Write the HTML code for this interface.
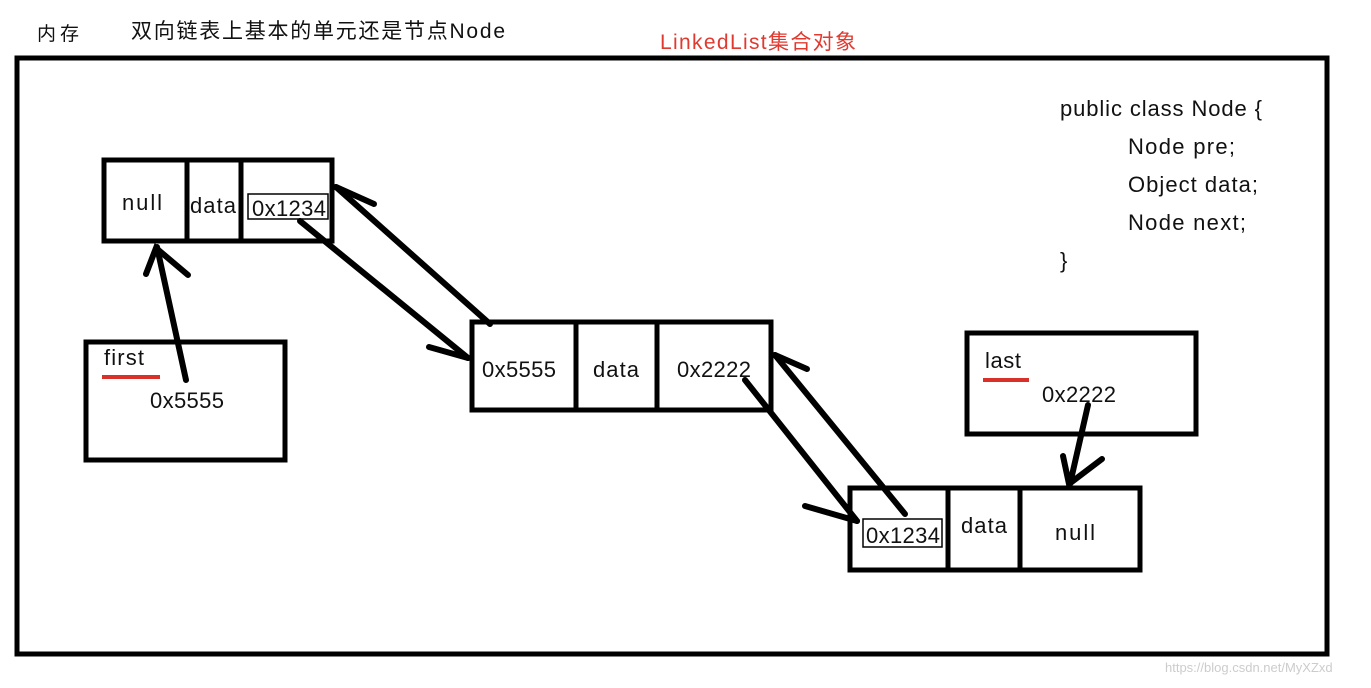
<!DOCTYPE html>
<html><head><meta charset="utf-8"><style>
html,body{margin:0;padding:0;background:#fff;}
svg text{font-family:"Liberation Sans","Noto Sans CJK SC",sans-serif;fill:#111;}
</style></head><body>
<svg width="1371" height="683" viewBox="0 0 1371 683" xmlns="http://www.w3.org/2000/svg">
<rect width="1371" height="683" fill="#fff"/>
<text x="37" y="40" font-size="19" textLength="42">内存</text>
<text x="131" y="38" font-size="21" textLength="374">双向链表上基本的单元还是节点Node</text>
<text x="660" y="49" font-size="21" textLength="196" style="fill:#e03a30">LinkedList集合对象</text>
<rect x="17" y="58" width="1310" height="596" fill="none" stroke="#000" stroke-width="5"/>
<g fill="none" stroke="#000" stroke-width="5">
<rect x="104" y="160" width="228" height="81"/>
<line x1="187" y1="160" x2="187" y2="241"/><line x1="241" y1="160" x2="241" y2="241"/>
<rect x="86" y="342" width="199" height="118"/>
<rect x="472" y="322" width="299" height="88"/>
<line x1="576" y1="322" x2="576" y2="410"/><line x1="657" y1="322" x2="657" y2="410"/>
<rect x="850" y="488" width="290" height="82"/>
<line x1="948" y1="488" x2="948" y2="570"/><line x1="1020" y1="488" x2="1020" y2="570"/>
<rect x="967" y="333" width="229" height="101"/>
</g>
<g fill="none" stroke="#000" stroke-width="1.5">
<rect x="248" y="194" width="80" height="25"/>
<rect x="863" y="519" width="79" height="28"/>
</g>
<g stroke="#000" stroke-width="6" stroke-linecap="round" fill="none">
<line x1="186" y1="380" x2="157" y2="247"/>
<polyline points="146,274 156,248 188,275"/>
<line x1="300" y1="221" x2="468" y2="358"/>
<line x1="429" y1="347" x2="468" y2="358"/>
<line x1="490" y1="324" x2="336" y2="187"/>
<line x1="336" y1="187" x2="374" y2="204"/>
<line x1="745" y1="380" x2="857" y2="521"/>
<line x1="805" y1="506" x2="857" y2="521"/>
<line x1="905" y1="514" x2="775" y2="355"/>
<line x1="775" y1="355" x2="807" y2="369"/>
<line x1="1088" y1="405" x2="1070" y2="484"/>
<polyline points="1063,456 1069,484 1102,459"/>
</g>
<rect x="102" y="375" width="58" height="4" fill="#d9302a"/>
<rect x="983" y="378" width="46" height="4" fill="#d9302a"/>
<g font-size="22">
<text x="122" y="210" textLength="40">null</text>
<text x="190" y="213" textLength="46">data</text>
<text x="252" y="216" textLength="74">0x1234</text>
<text x="104" y="365" textLength="40">first</text>
<text x="150" y="408" textLength="74">0x5555</text>
<text x="482" y="377" textLength="74">0x5555</text>
<text x="593" y="377" textLength="46">data</text>
<text x="677" y="377" textLength="74">0x2222</text>
<text x="985" y="368" textLength="36">last</text>
<text x="1042" y="402" textLength="74">0x2222</text>
<text x="866" y="543" textLength="74">0x1234</text>
<text x="961" y="533" textLength="46">data</text>
<text x="1055" y="540" textLength="40">null</text>
<text x="1060" y="116" textLength="202">public class Node {</text>
<text x="1128" y="154" textLength="107">Node pre;</text>
<text x="1128" y="192" textLength="130">Object data;</text>
<text x="1128" y="230" textLength="118">Node next;</text>
<text x="1060" y="268">}</text>
</g>
<text x="1165" y="672" font-size="13" style="fill:#ccc">https://blog.csdn.net/MyXZxd</text>
</svg>
</body></html>
